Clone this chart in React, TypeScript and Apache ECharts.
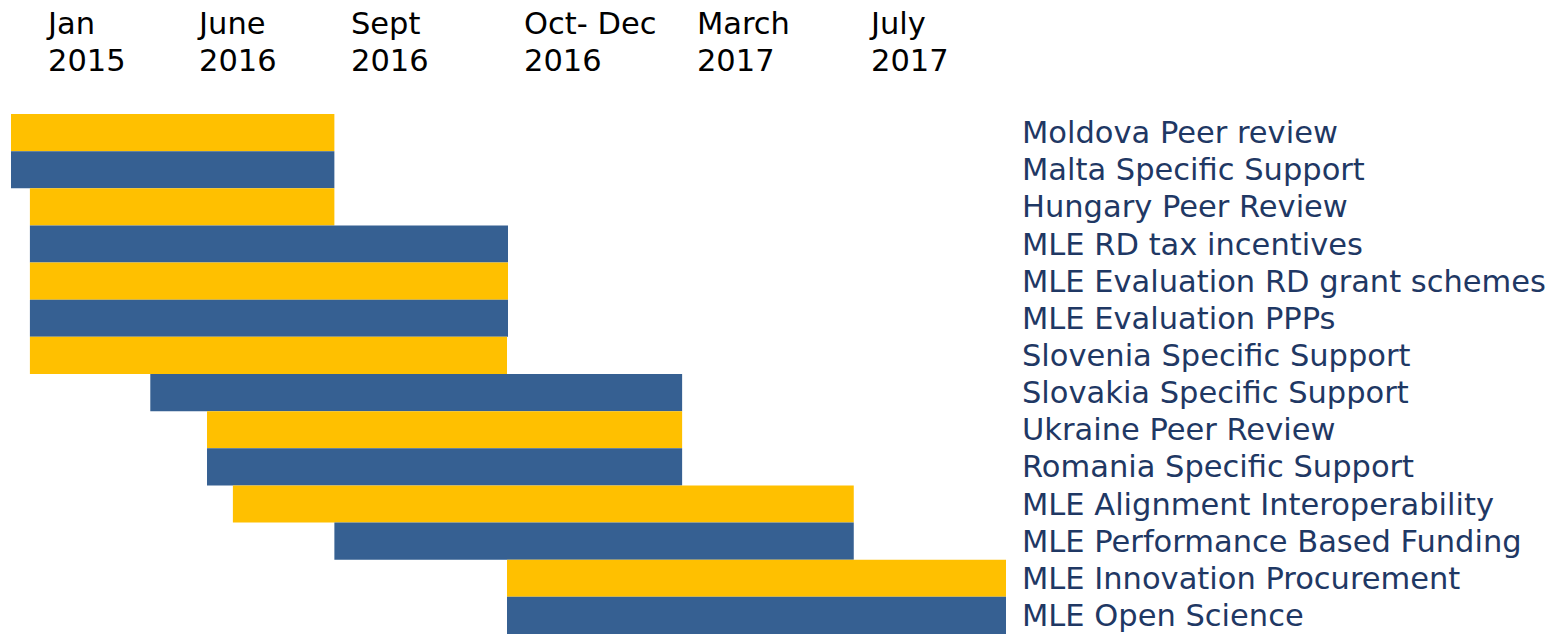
import React, { useEffect, useRef } from "react";
import * as echarts from "echarts";

// Tasks (top to bottom)
const tasks = [
  "Moldova Peer review",
  "Malta Specific Support",
  "Hungary Peer Review",
  "MLE RD tax incentives",
  "MLE Evaluation RD grant schemes",
  "MLE Evaluation PPPs",
  "Slovenia Specific Support",
  "Slovakia Specific Support",
  "Ukraine Peer Review",
  "Romania Specific Support",
  "MLE Alignment Interoperability",
  "MLE Performance Based Funding",
  "MLE Innovation Procurement",
  "MLE Open Science",
];

// Timeline position (0 = start of chart, 100 = end of July 2017 column)
const starts = [0, 0, 1.9, 1.9, 1.9, 1.9, 1.9, 14.0, 19.7, 19.7, 22.3, 32.5, 49.85, 49.85];
const ends = [32.5, 32.5, 32.5, 49.95, 49.95, 49.95, 49.85, 67.45, 67.45, 67.45, 84.7, 84.7, 100, 100];

// Header period labels and their timeline positions
const periodLabels = ["Jan\n2015", "June\n2016", "Sept\n2016", "Oct- Dec\n2016", "March\n2017", "July\n2017"];
const periodPositions = [3.72, 18.9, 34.17, 51.56, 68.94, 86.43];

const colors = ["#FFC000", "#366092"];

export default function App() {
  const ref = useRef<HTMLDivElement>(null);
  useEffect(() => {
    document.body.style.margin = "0";
    const chart = echarts.init(ref.current!, undefined, { renderer: "svg" });
    chart.setOption({
      animation: false,
      grid: {
        left: 11,
        right: 547,
        top: 114,
        bottom: 0,
        containLabel: false,
        outerBoundsMode: "none",
      },
      xAxis: [
        { type: "value", min: 0, max: 100, show: false },
        {
          type: "value",
          min: 0,
          max: 100,
          position: "top",
          axisLine: { show: false },
          axisTick: { show: false },
          splitLine: { show: false },
          axisLabel: {
            show: true,
            customValues: periodPositions,
            formatter: (v: number) => {
              const idx = periodPositions.findIndex((p) => Math.abs(p - v) < 1e-6);
              return idx >= 0 ? periodLabels[idx] : "";
            },
            align: "left",
            margin: 35,
            fontSize: 30.5,
            lineHeight: 37,
            color: "#000000",
            fontFamily: "DejaVu Sans",
          },
        },
      ],
      yAxis: {
        type: "category",
        data: tasks,
        inverse: true,
        position: "right",
        axisLine: { show: false },
        axisTick: { show: false },
        splitLine: { show: false },
        axisLabel: {
          margin: 16,
          align: "left",
          fontSize: 30.5,
          padding: [3, 0, 0, 0],
          color: "#1F3864",
          fontFamily: "DejaVu Sans",
          interval: 0,
        },
      },
      series: [
        {
          type: "bar",
          stack: "g",
          barCategoryGap: "0%",
          itemStyle: { color: "transparent" },
          data: starts,
          silent: true,
        },
        {
          type: "bar",
          stack: "g",
          barCategoryGap: "0%",
          data: ends.map((e, i) => ({
            value: e - starts[i],
            itemStyle: { color: colors[i % 2] },
          })),
        },
      ],
    });
    return () => chart.dispose();
  }, []);
  return <div ref={ref} style={{ width: 1553, height: 634 }} />;
}
